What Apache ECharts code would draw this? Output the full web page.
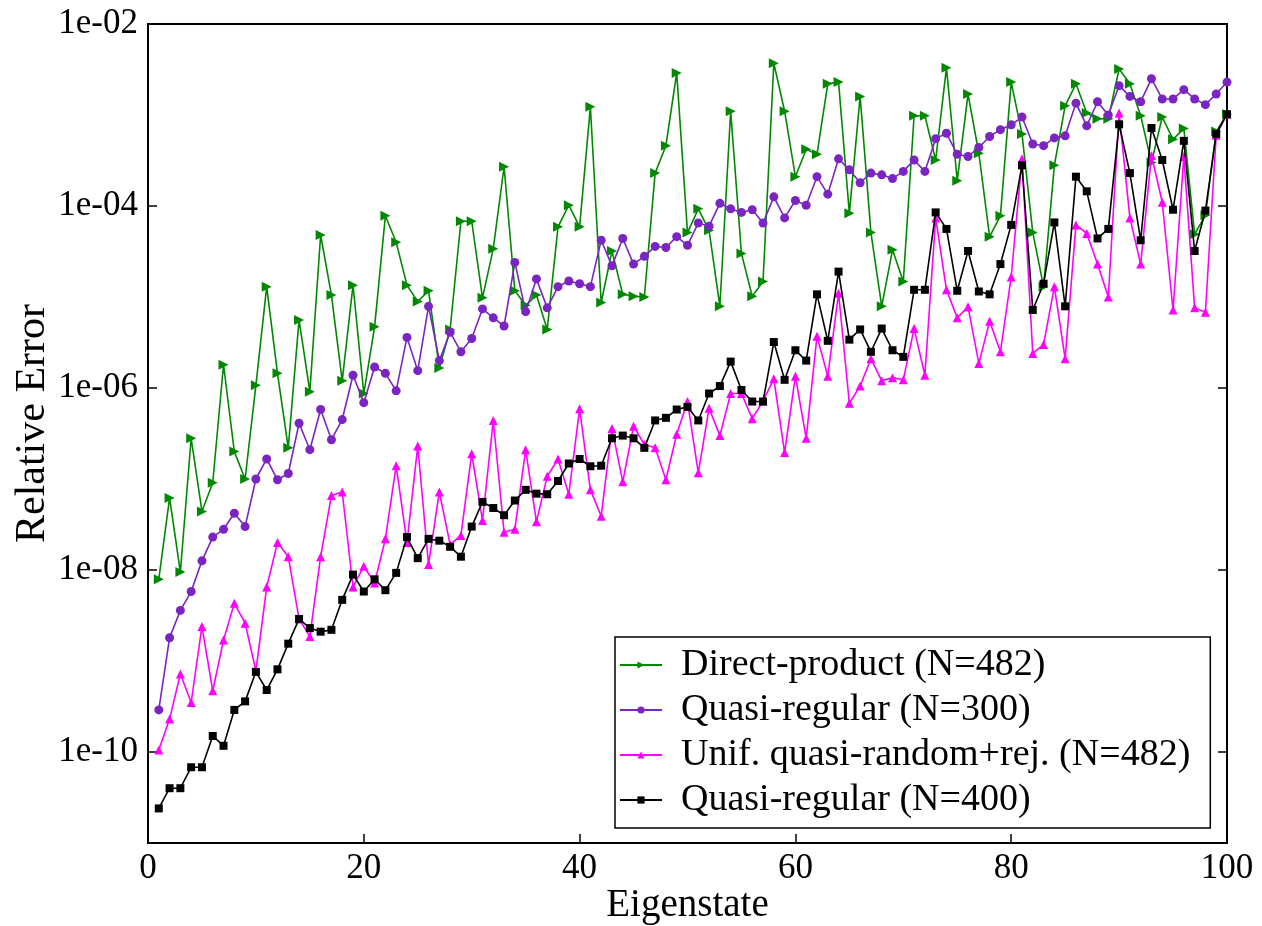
<!DOCTYPE html>
<html>
<head>
<meta charset="utf-8">
<script src="https://cdn.jsdelivr.net/npm/echarts@6/dist/echarts.min.js"></script>
<style>html,body{margin:0;padding:0;background:#fff;}#c{width:1262px;height:926px;}</style>
</head>
<body>
<div id="c"></div>
<script>
const eigenstates = Array.from({length: 100}, (_, i) => i + 1);

const directProduct482 = [
7.9e-9,6.2e-8,9.5e-9,2.8e-7,4.4e-8,9.1e-8,1.8e-6,2.0e-7,1.0e-7,1.07e-6,
1.3e-5,1.45e-6,2.2e-7,5.6e-6,9.1e-7,4.8e-5,1.05e-5,1.2e-6,1.35e-5,8.7e-7,
4.7e-6,7.8e-5,4.0e-5,1.35e-5,8.9e-6,1.17e-5,1.66e-6,4.4e-6,6.8e-5,6.8e-5,
9.8e-6,3.4e-5,2.7e-4,1.17e-5,8.1e-6,1.05e-5,4.4e-6,5.9e-5,1.02e-4,5.9e-5,
1.23e-3,8.7e-6,3.2e-5,1.07e-5,1.02e-5,1.0e-5,2.3e-4,4.6e-4,2.9e-3,5.1e-5,
9.3e-5,5.4e-5,7.9e-6,1.1e-3,3.0e-5,1.02e-5,1.48e-5,3.7e-3,1.1e-3,2.1e-4,
4.2e-4,3.7e-4,2.2e-3,2.3e-3,8.3e-5,1.6e-3,5.1e-5,7.9e-6,3.3e-5,1.48e-5,
9.8e-4,9.8e-4,3.2e-4,3.3e-3,1.9e-4,1.7e-3,3.8e-4,4.6e-5,7.8e-5,2.3e-3,
6.2e-4,5.1e-5,1.3e-5,2.8e-4,1.26e-3,2.2e-3,1.05e-3,9.1e-4,9.1e-4,3.2e-3,
2.2e-3,9.8e-4,3.0e-4,9.5e-4,5.4e-4,7.1e-4,4.9e-5,7.9e-5,6.6e-4,1.02e-3
];

const quasiRegular300 = [
2.9e-10,1.8e-9,3.6e-9,5.8e-9,1.26e-8,2.3e-8,2.8e-8,4.2e-8,3.0e-8,1.0e-7,
1.66e-7,9.8e-8,1.15e-7,4.1e-7,2.1e-7,5.8e-7,2.7e-7,4.5e-7,1.38e-6,6.9e-7,
1.7e-6,1.45e-6,9.3e-7,3.6e-6,1.55e-6,7.9e-6,2.0e-6,4.1e-6,2.5e-6,3.5e-6,
7.4e-6,5.9e-6,4.8e-6,2.4e-5,6.9e-6,1.58e-5,7.6e-6,1.3e-5,1.5e-5,1.4e-5,
1.3e-5,4.2e-5,2.2e-5,4.4e-5,2.3e-5,2.8e-5,3.6e-5,3.5e-5,4.6e-5,3.7e-5,
6.5e-5,6.0e-5,1.07e-4,9.3e-5,8.5e-5,9.1e-5,6.5e-5,1.26e-4,7.4e-5,1.15e-4,
1.02e-4,2.1e-4,1.35e-4,3.3e-4,2.5e-4,1.8e-4,2.3e-4,2.2e-4,2.0e-4,2.4e-4,
3.2e-4,2.4e-4,5.5e-4,6.3e-4,3.7e-4,3.5e-4,4.4e-4,5.8e-4,6.9e-4,7.8e-4,
9.5e-4,4.8e-4,4.6e-4,5.6e-4,5.9e-4,1.35e-3,7.6e-4,1.4e-3,1.0e-3,2.1e-3,
1.6e-3,1.4e-3,2.5e-3,1.5e-3,1.5e-3,1.9e-3,1.5e-3,1.3e-3,1.7e-3,2.3e-3
];

const unifQuasiRandomRej482 = [
1.05e-10,2.3e-10,7.2e-10,3.5e-10,2.4e-9,4.7e-10,1.7e-9,4.3e-9,2.6e-9,7.8e-10,
6.5e-9,2.0e-8,1.4e-8,2.9e-9,1.86e-9,1.4e-8,6.6e-8,7.2e-8,6.5e-9,1.1e-8,
7.2e-9,2.2e-8,1.4e-7,2.0e-8,2.3e-7,1.15e-8,7.2e-8,1.9e-8,2.4e-8,1.9e-7,
3.5e-8,4.4e-7,2.6e-8,2.8e-8,2.1e-7,3.4e-8,1.07e-7,1.66e-7,6.8e-8,5.9e-7,
7.6e-8,3.9e-8,3.6e-7,9.3e-8,3.8e-7,2.4e-7,2.2e-7,9.8e-8,3.1e-7,7.1e-7,
1.17e-7,6.0e-7,3.0e-7,8.7e-7,8.7e-7,4.6e-7,7.2e-7,1.26e-6,1.95e-7,1.35e-6,
2.8e-7,3.7e-6,1.35e-6,1.1e-5,6.8e-7,1.05e-6,2.1e-6,1.2e-6,1.3e-6,1.23e-6,
4.5e-6,1.38e-6,7.4e-5,1.2e-5,5.9e-6,7.8e-6,1.86e-6,5.4e-6,2.5e-6,1.66e-5,
3.3e-4,2.4e-6,3.0e-6,1.3e-5,2.1e-6,6.2e-5,5.0e-5,2.3e-5,1.0e-5,1.05e-3,
7.4e-5,2.3e-5,3.6e-4,1.1e-4,7.2e-6,3.5e-4,7.6e-6,6.8e-6,6.0e-4,1.02e-3
];

const quasiRegular400 = [
2.4e-11,4.0e-11,4.0e-11,6.8e-11,6.8e-11,1.5e-10,1.17e-10,2.9e-10,3.6e-10,7.6e-10,
4.8e-10,8.1e-10,1.55e-9,2.9e-9,2.3e-9,2.1e-9,2.2e-9,4.7e-9,8.9e-9,5.8e-9,
7.9e-9,6.0e-9,9.3e-9,2.3e-8,1.35e-8,2.2e-8,2.1e-8,1.8e-8,1.4e-8,3.0e-8,
5.6e-8,4.8e-8,4.0e-8,5.8e-8,7.6e-8,6.9e-8,6.8e-8,9.5e-8,1.48e-7,1.66e-7,
1.38e-7,1.4e-7,2.8e-7,3.0e-7,2.8e-7,2.2e-7,4.4e-7,4.7e-7,5.8e-7,6.2e-7,
4.4e-7,8.7e-7,1.05e-6,1.95e-6,9.5e-7,7.1e-7,7.1e-7,3.2e-6,1.23e-6,2.6e-6,
2.0e-6,1.07e-5,3.3e-6,1.9e-5,3.4e-6,4.4e-6,2.5e-6,4.5e-6,2.6e-6,2.2e-6,
1.2e-5,1.2e-5,8.5e-5,5.6e-5,1.17e-5,3.2e-5,1.15e-5,1.07e-5,2.3e-5,6.2e-5,
2.8e-4,7.2e-6,1.4e-5,6.6e-5,7.9e-6,2.1e-4,1.45e-4,4.4e-5,5.6e-5,7.9e-4,
2.3e-4,4.2e-5,7.2e-4,3.2e-4,9.1e-5,5.2e-4,3.2e-5,8.9e-5,6.2e-4,1.02e-3
];

const seriesNames = [
  'Direct-product (N=482)',
  'Quasi-regular (N=300)',
  'Unif. quasi-random+rej. (N=482)',
  'Quasi-regular (N=400)'
];
const xTicks = [0, 20, 40, 60, 80, 100];
const yTicks = [1e-10, 1e-8, 1e-6, 1e-4, 1e-2];

const FONT = 'Liberation Serif';
function pair(arr) { return arr.map((v, i) => [eigenstates[i], v]); }
function yFmt(v) {
  const e = Math.round(Math.log10(v));
  if (e % 2 !== 0) return '';
  return '1e-' + String(-e).padStart(2, '0');
}

const chart = echarts.init(document.getElementById('c'), null, {renderer: 'canvas'});
const yCommon = {
  type: 'log', logBase: 10, min: 1e-11, max: 1e-2,
  axisLine: {show: true, lineStyle: {color: '#000', width: 2}},
  splitLine: {show: false},
  minorTick: {show: false}
};
chart.setOption({
  animation: false,
  backgroundColor: '#fff',
  grid: {left: 148, right: 35, top: 24, bottom: 83, containLabel: false, outerBoundsMode: 'none',
         show: true, borderColor: '#000', borderWidth: 2, backgroundColor: 'transparent'},
  xAxis: {
    type: 'value', min: 0, max: 100, interval: 20,
    name: 'Eigenstate', nameLocation: 'middle', nameGap: 43, nameMoveOverlap: false,
    nameTextStyle: {fontFamily: FONT, fontSize: 39, color: '#000'},
    axisLine: {show: true, onZero: false, lineStyle: {color: '#000', width: 2}},
    axisTick: {show: true, inside: true, length: 9, lineStyle: {color: '#000', width: 1.5}, customValues: xTicks},
    axisLabel: {fontFamily: FONT, fontSize: 35, color: '#000', margin: 8, customValues: xTicks},
    splitLine: {show: false}
  },
  yAxis: [
    Object.assign({}, yCommon, {
      position: 'left',
      name: 'Relative Error', nameLocation: 'middle', nameGap: 94, nameRotate: 90, nameMoveOverlap: false,
      nameTextStyle: {fontFamily: FONT, fontSize: 42, color: '#000', padding: [0, 0, 0, 20]},
      axisTick: {show: true, inside: true, length: 9, lineStyle: {color: '#000', width: 1.5}, customValues: yTicks},
      axisLabel: {fontFamily: FONT, fontSize: 35, color: '#000', margin: 10, formatter: yFmt, customValues: yTicks}
    }),
    Object.assign({}, yCommon, {
      position: 'right',
      axisTick: {show: true, inside: true, length: 9, lineStyle: {color: '#000', width: 1.5}, customValues: yTicks},
      axisLabel: {show: false}
    })
  ],
  legend: {
    orient: 'vertical', left: 615, top: 637,
    backgroundColor: '#fff', borderColor: '#000', borderWidth: 1.5,
    padding: [8, 20, 8, 4],
    itemWidth: 42, itemHeight: 9, itemGap: 5,
    textStyle: {fontFamily: FONT, fontSize: 38, color: '#000', lineHeight: 40, padding: [0, 0, 0, 14]},
    data: seriesNames
  },
  series: [
    {name: seriesNames[0], type: 'line', data: pair(directProduct482), yAxisIndex: 0,
     symbol: 'triangle', symbolRotate: -90, symbolSize: 10,
     itemStyle: {color: '#008800'}, lineStyle: {color: '#008800', width: 1.6}, z: 2},
    {name: seriesNames[1], type: 'line', data: pair(quasiRegular300), yAxisIndex: 0,
     symbol: 'circle', symbolSize: 9,
     itemStyle: {color: '#7a25c2'}, lineStyle: {color: '#7a25c2', width: 1.6}, z: 3},
    {name: seriesNames[2], type: 'line', data: pair(unifQuasiRandomRej482), yAxisIndex: 0,
     symbol: 'triangle', symbolSize: 9,
     itemStyle: {color: '#ff00ff'}, lineStyle: {color: '#ff00ff', width: 1.6}, z: 4},
    {name: seriesNames[3], type: 'line', data: pair(quasiRegular400), yAxisIndex: 0,
     symbol: 'rect', symbolSize: 8,
     itemStyle: {color: '#000'}, lineStyle: {color: '#000', width: 1.6}, z: 5}
  ]
});
</script>
</body>
</html>
